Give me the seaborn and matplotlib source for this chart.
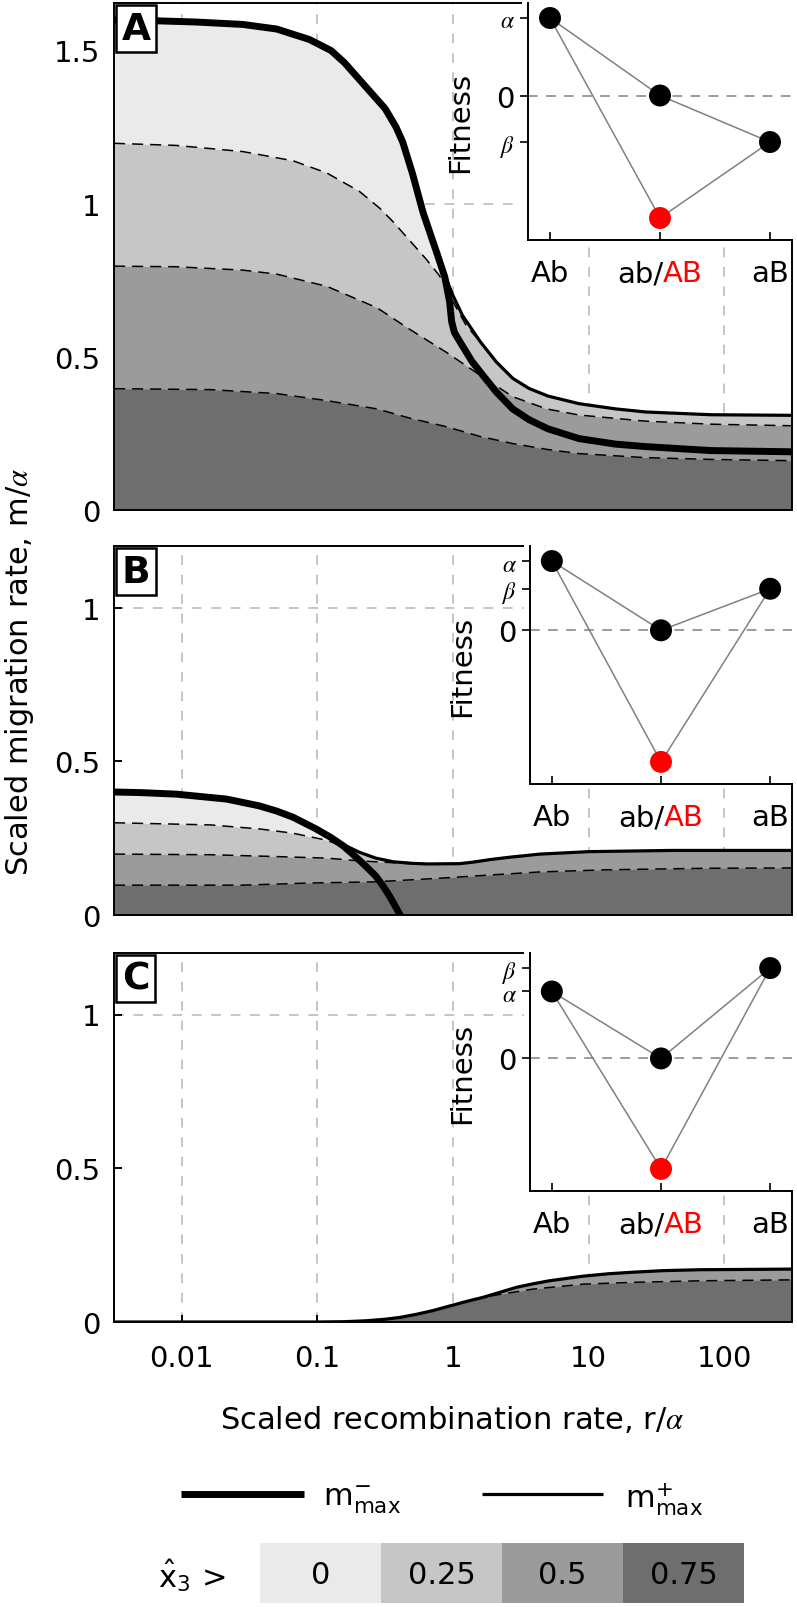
import numpy as np
import matplotlib
matplotlib.use("Agg")
import matplotlib.pyplot as plt
import seaborn as sns
from matplotlib.patches import Rectangle
from matplotlib.lines import Line2D
from matplotlib.ticker import NullLocator

# ---------------- data ----------------
XTICK_LOG = [-2, -1, 0, 1, 2]
XTICK_LABELS = ["0.01", "0.1", "1", "10", "100"]
XLIM_LOG = (-2.5, 2.5)

SHADE_LEVELS = ["0", "0.25", "0.5", "0.75"]
SHADE_COLORS = ["#eaeaea", "#c6c6c6", "#9b9b9b", "#6e6e6e"]

GENOTYPES = ["Ab", "ab", "aB", "AB"]

# ---- Panel A ----
A_minus_logr = [-2.5, -2.2, -1.9, -1.55, -1.3, -1.06, -0.9, -0.8, -0.7, -0.6, -0.5, -0.42, -0.37,
                -0.3, -0.22, -0.12, -0.06, -0.025, -0.01, 0.01, 0.05, 0.14, 0.22, 0.32, 0.44, 0.56,
                0.7, 0.93, 1.2, 1.42, 1.9, 2.5]
A_minus_m = [1.600, 1.597, 1.593, 1.585, 1.570, 1.536, 1.500, 1.460, 1.410, 1.360, 1.310, 1.250, 1.200,
             1.100, 0.970, 0.840, 0.760, 0.680, 0.615, 0.580, 0.550, 0.485, 0.440, 0.385, 0.330, 0.295,
             0.265, 0.233, 0.215, 0.207, 0.194, 0.190]
A_plus_logr = [-0.1, -0.05, 0.0, 0.07, 0.2, 0.32, 0.44, 0.56, 0.7, 0.93, 1.2, 1.42, 1.9, 2.5]
A_plus_m = [0.810, 0.755, 0.700, 0.635, 0.550, 0.483, 0.430, 0.397, 0.372, 0.347, 0.330, 0.320, 0.311, 0.309]
A_c25_logr = [-2.5, -2.04, -1.55, -1.18, -0.93, -0.69, -0.54, -0.44, -0.32, -0.2, -0.1, 0.0, 0.1, 0.2,
              0.32, 0.44, 0.56, 0.7, 0.93, 1.2, 1.42, 1.9, 2.5]
A_c25_m = [1.197, 1.190, 1.170, 1.140, 1.100, 1.040, 0.985, 0.940, 0.880, 0.820, 0.765, 0.680, 0.600, 0.550,
           0.483, 0.430, 0.397, 0.372, 0.347, 0.330, 0.320, 0.311, 0.309]
A_c50_logr = [-2.5, -2.04, -1.55, -1.3, -0.93, -0.56, -0.32, -0.05, 0.2, 0.44, 0.69, 0.93, 1.42, 1.91, 2.5]
A_c50_m = [0.796, 0.794, 0.783, 0.770, 0.730, 0.660, 0.590, 0.515, 0.440, 0.370, 0.330, 0.310, 0.290, 0.280, 0.275]
A_c75_logr = [-2.5, -1.79, -1.3, -0.93, -0.56, -0.32, -0.05, 0.2, 0.44, 0.69, 0.93, 1.42, 1.91, 2.5]
A_c75_m = [0.396, 0.393, 0.380, 0.357, 0.330, 0.300, 0.272, 0.240, 0.217, 0.198, 0.184, 0.171, 0.165, 0.161]
A_fitness = [1.0, 0.0, -0.6, -1.58]     # Ab, ab, aB, AB

# ---- Panel B ----
B_minus_logr = [-2.5, -2.3, -2.04, -1.67, -1.43, -1.3, -1.18, -1.01, -0.9, -0.81, -0.74, -0.67,
                -0.57, -0.52, -0.47, -0.43, -0.39]
B_minus_m = [0.400, 0.398, 0.393, 0.377, 0.355, 0.338, 0.318, 0.280, 0.252, 0.225, 0.198, 0.170,
             0.127, 0.097, 0.063, 0.032, 0.0]
B_plus_logr = [-1.0, -0.86, -0.69, -0.57, -0.44, -0.3, -0.19, 0.05, 0.15, 0.27, 0.42, 0.64, 1.0, 1.62, 2.5]
B_plus_m = [0.278, 0.240, 0.204, 0.185, 0.173, 0.168, 0.166, 0.167, 0.172, 0.180, 0.188, 0.198, 0.206,
            0.210, 0.210]
B_c25_logr = [-2.5, -1.79, -1.43, -1.18, -0.93, -0.76, -0.69, -0.57, -0.44, -0.19, 0.05, 0.27, 0.42,
              0.64, 1.0, 1.62, 2.5]
B_c25_m = [0.300, 0.293, 0.280, 0.266, 0.243, 0.214, 0.204, 0.185, 0.173, 0.166, 0.167, 0.180, 0.188,
           0.198, 0.206, 0.210, 0.210]
B_c50_logr = [-2.5, -1.79, -1.3, -0.93, -0.69, -0.44, -0.3, -0.19, 0.05, 0.27, 0.42, 0.64, 1.0, 1.62, 2.5]
B_c50_m = [0.198, 0.196, 0.190, 0.185, 0.176, 0.170, 0.167, 0.166, 0.167, 0.180, 0.188, 0.198, 0.206, 0.210, 0.210]
B_c75_logr = [-2.5, -1.55, -1.06, -0.57, -0.08, 0.27, 0.64, 1.13, 1.87, 2.5]
B_c75_m = [0.097, 0.097, 0.104, 0.108, 0.120, 0.130, 0.140, 0.147, 0.152, 0.153]
B_fitness = [1.0, 0.0, 0.6, -1.9]

# ---- Panel C ----
C_plus_logr = [-2.5, -1.0, -0.8, -0.64, -0.5, -0.39, -0.27, -0.15, 0.0, 0.1, 0.22, 0.35, 0.47, 0.6,
               0.71, 0.96, 1.15, 1.33, 1.55, 1.82, 2.5]
C_plus_m = [0.0, 0.0, 0.001, 0.004, 0.009, 0.015, 0.025, 0.037, 0.055, 0.067, 0.080, 0.097, 0.113, 0.125,
            0.134, 0.149, 0.157, 0.162, 0.167, 0.170, 0.172]
C_c75_logr = [-2.5, -1.0, -0.8, -0.64, -0.5, -0.39, -0.27, -0.15, 0.0, 0.1, 0.22, 0.35, 0.59, 0.96,
              1.33, 1.82, 2.5]
C_c75_m = [0.0, 0.0, 0.001, 0.004, 0.009, 0.015, 0.025, 0.037, 0.055, 0.067, 0.080, 0.090, 0.107, 0.123,
           0.129, 0.134, 0.137]
C_fitness = [1.0, 0.0, 1.35, -1.65]

PANELS = [
    dict(letter="A", minus=(A_minus_logr, A_minus_m), plus=(A_plus_logr, A_plus_m),
         c25=(A_c25_logr, A_c25_m), c50=(A_c50_logr, A_c50_m), c75=(A_c75_logr, A_c75_m),
         dashed=["c25", "c50", "c75"], fitness=A_fitness, ymax=1.655,
         yticks=[0, 0.5, 1, 1.5], yticklabels=["0", "0.5", "1", "1.5"],
         box=(114, 4, 792, 511), inset=(528, 4, 792, 241)),
    dict(letter="B", minus=(B_minus_logr, B_minus_m), plus=(B_plus_logr, B_plus_m),
         c25=(B_c25_logr, B_c25_m), c50=(B_c50_logr, B_c50_m), c75=(B_c75_logr, B_c75_m),
         dashed=["c25", "c50", "c75"], fitness=B_fitness, ymax=1.2,
         yticks=[0, 0.5, 1], yticklabels=["0", "0.5", "1"],
         box=(114, 547, 792, 916), inset=(530, 547, 792, 785)),
    dict(letter="C", minus=None, plus=(C_plus_logr, C_plus_m),
         c25=(C_plus_logr, C_plus_m), c50=(C_plus_logr, C_plus_m), c75=(C_c75_logr, C_c75_m),
         dashed=["c75"], fitness=C_fitness, ymax=1.2,
         yticks=[0, 0.5, 1], yticklabels=["0", "0.5", "1"],
         box=(114, 954, 792, 1323), inset=(530, 954, 792, 1192)),
]

# ---------------- style ----------------
sns.set_style("white")
plt.rcParams.update({
    "font.family": ["DejaVu Sans"],
    "mathtext.fontset": "custom",
    "mathtext.rm": "DejaVu Sans",
    "mathtext.it": "STIXGeneral:italic",
    "mathtext.bf": "DejaVu Sans:bold",
    "lines.scale_dashes": False,
    "axes.linewidth": 1.4,
    "axes.edgecolor": "black",
    "text.color": "black",
    "axes.labelcolor": "black",
    "xtick.color": "black",
    "ytick.color": "black",
})

W, H = 797, 1608
fig = plt.figure(figsize=(W / 100, H / 100), dpi=100)


def frect(l, t, r, b):
    return [l / W, 1 - b / H, (r - l) / W, (b - t) / H]


GRID_LS = (0, (7, 7))
GRID_COLOR = "#b5b5b5"
TICK_FS = 21
GREEK_FS = 17


def r_of(logr):
    return 10.0 ** np.asarray(logr)


for i, d in enumerate(PANELS):
    ax = fig.add_axes(frect(*d["box"]), zorder=0)
    ax.set_xscale("log")
    ax.set_axisbelow(True)

    # shaded regions x3 > level
    fill_sets = [[d["plus"]] + ([d["minus"]] if d["minus"] is not None else []),
                 [d["c25"]], [d["c50"]], [d["c75"]]]
    for col, curves in zip(SHADE_COLORS, fill_sets):
        for lr, m in curves:
            ax.fill_between(r_of(lr), 0, m, color=col, lw=0, zorder=1)

    # contour boundaries (dashed)
    for key in d["dashed"]:
        lr, m = d[key]
        sns.lineplot(x=r_of(lr), y=m, ax=ax, color="black", lw=1.1, sort=False,
                     estimator=None, errorbar=None, legend=False, zorder=2)
        ax.lines[-1].set_linestyle((0, (8, 5)))

    # m_max^+ (thin) and m_max^- (thick)
    lr, m = d["plus"]
    sns.lineplot(x=r_of(lr), y=m, ax=ax, color="black", lw=2.3, sort=False,
                 estimator=None, errorbar=None, legend=False, zorder=3)
    if d["minus"] is not None:
        lr, m = d["minus"]
        sns.lineplot(x=r_of(lr), y=m, ax=ax, color="black", lw=5.0, sort=False,
                     estimator=None, errorbar=None, legend=False, zorder=4)

    ax.set_xlim(10.0 ** XLIM_LOG[0], 10.0 ** XLIM_LOG[1])
    ax.set_ylim(0, d["ymax"])
    ax.set_xticks([10.0 ** k for k in XTICK_LOG])
    ax.xaxis.set_minor_locator(NullLocator())
    ax.grid(True, axis="x", linestyle=GRID_LS, color=GRID_COLOR, lw=1.1)
    ax.axhline(1.0, linestyle=GRID_LS, color=GRID_COLOR, lw=1.1, zorder=0.5)
    ax.set_yticks(d["yticks"])
    ax.set_yticklabels(d["yticklabels"])
    ax.tick_params(axis="y", left=True, direction="in", length=6, width=1.4,
                   labelsize=TICK_FS, pad=10, colors="black")
    if i == len(PANELS) - 1:
        ax.set_xticklabels(XTICK_LABELS)
        ax.tick_params(axis="x", bottom=True, direction="in", length=5, width=1.4,
                       labelsize=TICK_FS, pad=16, colors="black")
    else:
        ax.tick_params(axis="x", bottom=False, labelbottom=False)
    ax.set_xlabel("")
    ax.set_ylabel("")
    for s in ax.spines.values():
        s.set_linewidth(1.4)
        s.set_color("black")

    ax.annotate(d["letter"], xy=(0, 1), xycoords="axes fraction", xytext=(5.5, -5.5),
                textcoords="offset points", ha="left", va="top", fontsize=27,
                fontweight="bold", color="black",
                bbox=dict(boxstyle="square,pad=0.15", fc="white", ec="black", lw=1.8),
                zorder=10)

    # white area behind the inset (hides main frame there)
    l, t, r, b = d["inset"]
    fig.patches.append(Rectangle(((l - 6) / W, 1 - (b - 1) / H), (W - l + 6) / W,
                                 (b - 1 - t + 3) / H, transform=fig.transFigure,
                                 fc="white", ec="none", zorder=1))

    # ---- inset: fitness landscape ----
    ins = fig.add_axes(frect(*d["inset"]), zorder=3)
    ins.patch.set_alpha(0)
    f_Ab, f_ab, f_aB, f_AB = d["fitness"]
    k = 200.0 / (max(d["fitness"]) - min(d["fitness"]))
    ins.set_xlim(-0.2, 2.2)
    ins.set_ylim(min(d["fitness"]) - 22 / k, max(d["fitness"]) + 15 / k)
    ins.axhline(0, linestyle=(0, (7, 6)), color="#8a8a8a", lw=1.2, zorder=1)
    sns.lineplot(x=[0, 1, 2], y=[f_Ab, f_ab, f_aB], ax=ins, color="#808080", lw=1.1,
                 sort=False, estimator=None, errorbar=None, legend=False, zorder=2)
    sns.lineplot(x=[0, 1, 2], y=[f_Ab, f_AB, f_aB], ax=ins, color="#808080", lw=1.1,
                 sort=False, estimator=None, errorbar=None, legend=False, zorder=2)
    sns.scatterplot(x=[0, 1, 2], y=[f_Ab, f_ab, f_aB], ax=ins, color="black", s=250,
                    edgecolor="none", legend=False, zorder=4, clip_on=False)
    sns.scatterplot(x=[1], y=[f_AB], ax=ins, color="#ff0000", s=250,
                    edgecolor="none", legend=False, zorder=4, clip_on=False)
    ins.set_xticks([0, 1, 2])
    ins.set_xticklabels([GENOTYPES[0], "", GENOTYPES[2]])
    ins.set_yticks([f_Ab, 0, f_aB])
    ins.set_yticklabels([r"$\alpha$", "0", r"$\beta$"])
    ins.tick_params(axis="x", bottom=True, direction="in", length=6, width=1.2,
                    labelsize=TICK_FS, pad=14, colors="black")
    ins.tick_params(axis="y", left=True, direction="out", length=6, width=1.2,
                    pad=3.5, colors="black")
    for lab in ins.get_yticklabels():
        lab.set_fontsize(TICK_FS if lab.get_text() == "0" else GREEK_FS)
    ins.set_xlabel("")
    ins.set_ylabel("Fitness", fontsize=TICK_FS, labelpad=16, color="black")
    ins.spines["top"].set_visible(False)
    ins.spines["right"].set_visible(False)
    for s in ["left", "bottom"]:
        ins.spines[s].set_linewidth(1.4)
        ins.spines[s].set_color("black")
    ins.annotate(GENOTYPES[1] + "/", xy=(1, 0), xycoords=("data", "axes fraction"),
                 xytext=(2.3, -14), textcoords="offset points", ha="right", va="top",
                 fontsize=TICK_FS, color="black", annotation_clip=False)
    ins.annotate(GENOTYPES[3], xy=(1, 0), xycoords=("data", "axes fraction"),
                 xytext=(2.3, -14), textcoords="offset points", ha="left", va="top",
                 fontsize=TICK_FS, color="#ff0000", annotation_clip=False)

# axis labels
fig.text(20 / W, 1 - 672 / H, r"Scaled migration rate, m/$\alpha$", rotation=90,
         ha="center", va="center", fontsize=22, color="black")
fig.text(452 / W, 1 - 1420 / H, r"Scaled recombination rate, r/$\alpha$",
         ha="center", va="center", fontsize=22, color="black")

# ---------------- legend ----------------
leg = fig.add_axes([0, 0, 1, 1], zorder=5)
leg.set_xlim(0, W)
leg.set_ylim(H, 0)
leg.axis("off")
leg.add_line(Line2D([181, 304], [1495, 1495], color="black", lw=5.0, solid_capstyle="butt"))
leg.text(323, 1500, r"$\mathrm{m}^{-}_{\mathrm{max}}$", fontsize=22, ha="left", va="center")
leg.add_line(Line2D([482, 603], [1495, 1495], color="black", lw=2.3, solid_capstyle="butt"))
leg.text(625, 1500, r"$\mathrm{m}^{+}_{\mathrm{max}}$", fontsize=22, ha="left", va="center")
leg.text(158, 1576, r"$\hat{\mathrm{x}}_{3}$ >", fontsize=22, ha="left", va="center")
cell_w = (744 - 260) / len(SHADE_LEVELS)
for j, (lab, col) in enumerate(zip(SHADE_LEVELS, SHADE_COLORS)):
    x0 = 260 + j * cell_w
    leg.add_patch(Rectangle((x0, 1544), cell_w, 60, fc=col, ec="none"))
    leg.text(x0 + cell_w / 2, 1576, lab, fontsize=22, ha="center", va="center")

fig.savefig("out.png", dpi=100)
